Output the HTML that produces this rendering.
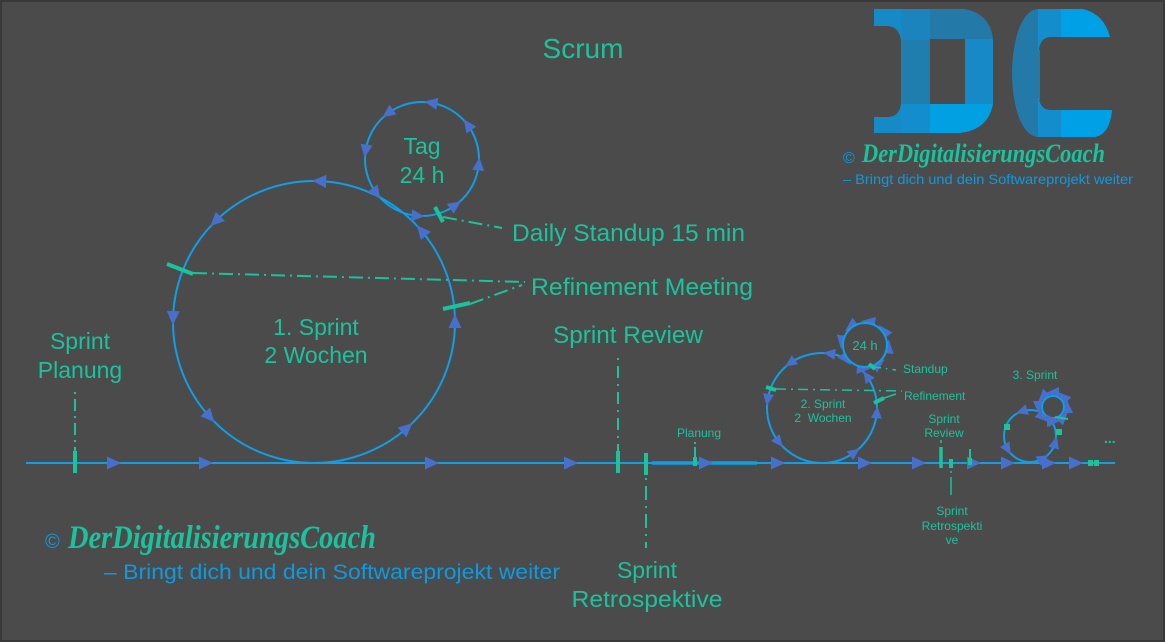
<!DOCTYPE html>
<html><head><meta charset="utf-8">
<style>
html,body{margin:0;padding:0;background:#4b4b4b;}
svg{display:block;}
text{font-family:"Liberation Sans",sans-serif;}
</style></head>
<body>
<svg width="1165" height="642" viewBox="0 0 1165 642" xmlns="http://www.w3.org/2000/svg">
<defs>
<polygon id="A" points="0,-8 -6.5,6 6.5,6" fill="#4670cc"/>
<polygon id="B" points="0,-7.5 -6,5.5 6,5.5" fill="#4670cc"/>
<polygon id="C" points="0,-6.5 -5.5,5.5 5.5,5.5" fill="#4670cc"/>
<polygon id="E" points="0,-8 -6.5,6 6.5,6" fill="#4670cc"/>
<polygon id="F" points="0,-7 -6,6 6,6" fill="#4670cc"/>
<polygon id="R" points="8,0 -6,-6.5 -6,6.5" fill="#4670cc"/>
</defs>
<rect x="0" y="0" width="1165" height="642" fill="#393939"/>
<rect x="2" y="2" width="1161" height="638" fill="#4b4b4b"/>

<!-- Logo DC -->
<g>
<path d="M874,9 H901 V40 Q899,27 888,26 H874 Z" fill="#168ac6"/>
<path d="M874,133 H901 V104 Q899,117 888,117 H874 Z" fill="#168ac6"/>
<rect x="901" y="9" width="29" height="31" fill="#1c84bd"/>
<rect x="901" y="40" width="29" height="64" fill="#1f7eae"/>
<rect x="901" y="104" width="29" height="29" fill="#138dcc"/>
<path d="M930,9 H965 Q990,14 993,39 H930 Z" fill="#2379a8"/>
<rect x="965" y="39" width="28" height="65" fill="#1789c6"/>
<path d="M930,104 H993 Q988,130 960,133 H930 Z" fill="#00a0e3"/>
<path d="M1038,9 C1020,10 1012,45 1012,73 C1012,102 1020,136 1038,137 Z" fill="#2379a8"/>
<path d="M1038,9 H1061 V37 H1050 Q1040,38 1039,50 L1038,50 Z" fill="#148dcc"/>
<rect x="1038" y="50" width="2" height="50" fill="#2379a8"/>
<path d="M1038,137 H1061 V110 H1050 Q1040,109 1039,98 L1038,98 Z" fill="#148dcc"/>
<path d="M1061,9 H1083 Q1104,14 1110,37 H1061 Z" fill="#00a0e6"/>
<path d="M1061,110 H1112 Q1110,134 1095,137 H1061 Z" fill="#00a0e6"/>
</g>
<text x="843" y="163" font-size="16" fill="#0e9ae0">©</text>
<text x="862" y="162" font-size="26" font-style="italic" font-weight="bold" fill="#1bc39d" textLength="243" lengthAdjust="spacingAndGlyphs" style="font-family:'Liberation Serif',serif">DerDigitalisierungsCoach</text>
<text x="843" y="184" font-size="14" fill="#0e9ae0" textLength="290" lengthAdjust="spacingAndGlyphs">– Bringt dich und dein Softwareprojekt weiter</text>

<!-- Title -->
<text x="583" y="58" font-size="28" fill="#1bc39d" text-anchor="middle">Scrum</text>

<!-- Timeline -->
<line x1="26" y1="463" x2="1115" y2="463" stroke="#109ee6" stroke-width="2"/>
<line x1="652" y1="463" x2="757" y2="463" stroke="#109ee6" stroke-width="3.5"/>

<!-- Main sprint circle -->
<circle cx="314" cy="322" r="141" fill="none" stroke="#109ee6" stroke-width="2"/>
<circle cx="422" cy="159" r="57" fill="none" stroke="#109ee6" stroke-width="2"/>

<g>
<use href="#A" transform="translate(314 322) rotate(-87.5) translate(141 0)"/>
<use href="#A" transform="translate(314 322) rotate(-134) translate(141 0)"/>
<use href="#A" transform="translate(314 322) rotate(-178) translate(141 0)"/>
<use href="#A" transform="translate(314 322) rotate(-222) translate(141 0)"/>
<use href="#A" transform="translate(314 322) rotate(-311) translate(141 0)"/>
<use href="#A" transform="translate(314 322) rotate(0) translate(141 0)"/>
<use href="#A" transform="translate(314 322) rotate(-40) translate(141 0)"/>
</g>
<g>
<use href="#B" transform="translate(422 159) rotate(-80) translate(57 0)"/>
<use href="#B" transform="translate(422 159) rotate(-126) translate(57 0)"/>
<use href="#B" transform="translate(422 159) rotate(-171) translate(57 0)"/>
<use href="#B" transform="translate(422 159) rotate(-216) translate(57 0)"/>
<use href="#B" transform="translate(422 159) rotate(-265) translate(57 0)"/>
<use href="#B" transform="translate(422 159) rotate(-305) translate(57 0)"/>
<use href="#B" transform="translate(422 159) rotate(-354) translate(57 0)"/>
<use href="#B" transform="translate(422 159) rotate(-36) translate(57 0)"/>
</g>

<text x="422" y="154" font-size="23" fill="#1bc39d" text-anchor="middle">Tag</text>
<text x="422" y="183" font-size="23" fill="#1bc39d" text-anchor="middle">24 h</text>
<text x="316" y="335" font-size="23" fill="#1bc39d" text-anchor="middle">1. Sprint</text>
<text x="316" y="363" font-size="23" fill="#1bc39d" text-anchor="middle">2 Wochen</text>

<!-- Standup marker -->
<line x1="435" y1="207" x2="443" y2="222" stroke="#1bc39d" stroke-width="4"/>
<line x1="443" y1="217" x2="502" y2="228" stroke="#1bc39d" stroke-width="2" stroke-dasharray="14 5 2 5"/>
<text x="512" y="241" font-size="24" fill="#1bc39d" textLength="233" lengthAdjust="spacingAndGlyphs">Daily Standup 15 min</text>

<!-- Refinement markers -->
<line x1="167" y1="264" x2="193" y2="274" stroke="#1bc39d" stroke-width="4"/>
<line x1="193" y1="273" x2="525" y2="282" stroke="#1bc39d" stroke-width="2" stroke-dasharray="14 5 2 5"/>
<line x1="443" y1="309" x2="470" y2="303" stroke="#1bc39d" stroke-width="4"/>
<line x1="470" y1="304" x2="522" y2="285" stroke="#1bc39d" stroke-width="2" stroke-dasharray="14 5 2 5"/>
<text x="531" y="295" font-size="24" fill="#1bc39d" textLength="222" lengthAdjust="spacingAndGlyphs">Refinement Meeting</text>

<!-- Sprint Planung -->
<text x="80" y="349" font-size="23" fill="#1bc39d" text-anchor="middle">Sprint</text>
<text x="80" y="378" font-size="23" fill="#1bc39d" text-anchor="middle">Planung</text>
<line x1="75" y1="392" x2="75" y2="451" stroke="#1bc39d" stroke-width="2" stroke-dasharray="2 5 12 5"/>
<line x1="75" y1="451" x2="75" y2="473" stroke="#1bc39d" stroke-width="4"/>

<!-- Sprint Review -->
<text x="553" y="343" font-size="24" fill="#1bc39d" textLength="150" lengthAdjust="spacingAndGlyphs">Sprint Review</text>
<line x1="618" y1="358" x2="618" y2="451" stroke="#1bc39d" stroke-width="2" stroke-dasharray="2 6 12 6"/>
<line x1="618" y1="451" x2="618" y2="473" stroke="#1bc39d" stroke-width="4"/>

<!-- Retrospektive -->
<line x1="646" y1="453" x2="646" y2="475" stroke="#1bc39d" stroke-width="4"/>
<line x1="646" y1="478" x2="646" y2="548" stroke="#1bc39d" stroke-width="2" stroke-dasharray="2 6 14 6"/>
<text x="647" y="578" font-size="23" fill="#1bc39d" text-anchor="middle">Sprint</text>
<text x="647" y="607" font-size="23" fill="#1bc39d" text-anchor="middle" textLength="151" lengthAdjust="spacingAndGlyphs">Retrospektive</text>

<!-- small Planung -->
<text x="699" y="437" font-size="12" fill="#1bc39d" text-anchor="middle">Planung</text>
<line x1="695" y1="442" x2="695" y2="444" stroke="#1bc39d" stroke-width="2"/>
<line x1="695" y1="447" x2="695" y2="460" stroke="#1bc39d" stroke-width="2"/>
<rect x="693" y="457" width="4" height="9" fill="#1bc39d"/>

<!-- Timeline arrows -->
<g>
<use href="#R" x="113" y="463"/>
<use href="#R" x="205" y="463"/>
<use href="#R" x="431" y="463"/>
<use href="#R" x="570" y="463"/>
<use href="#R" x="705" y="463"/>
<use href="#R" x="777" y="463"/>
<use href="#R" x="864" y="463"/>
<use href="#R" x="918" y="463"/>
<use href="#R" x="973" y="463"/>
<use href="#R" x="1007" y="463"/>
<use href="#R" x="1048" y="463"/>
<use href="#R" x="1075" y="463"/>
</g>

<!-- Sprint 2 -->
<circle cx="822" cy="408" r="55" fill="none" stroke="#109ee6" stroke-width="2"/>
<g>
<use href="#C" transform="translate(822 408) rotate(-82) translate(55 0)"/>
<use href="#C" transform="translate(822 408) rotate(-125) translate(55 0)"/>
<use href="#C" transform="translate(822 408) rotate(-171) translate(55 0)"/>
<use href="#C" transform="translate(822 408) rotate(-218) translate(55 0)"/>
<use href="#C" transform="translate(822 408) rotate(-306) translate(55 0)"/>
<use href="#C" transform="translate(822 408) rotate(-355) translate(55 0)"/>
<use href="#C" transform="translate(822 408) rotate(-35) translate(55 0)"/>
</g>
<g>
<use href="#E" transform="translate(865 345) rotate(-80) translate(23 0)"/>
<use href="#E" transform="translate(865 345) rotate(-126) translate(23 0)"/>
<use href="#E" transform="translate(865 345) rotate(-171) translate(23 0)"/>
<use href="#E" transform="translate(865 345) rotate(-216) translate(23 0)"/>
<use href="#E" transform="translate(865 345) rotate(-265) translate(23 0)"/>
<use href="#E" transform="translate(865 345) rotate(-305) translate(23 0)"/>
<use href="#E" transform="translate(865 345) rotate(-354) translate(23 0)"/>
<use href="#E" transform="translate(865 345) rotate(-36) translate(23 0)"/>
</g>
<circle cx="865" cy="345" r="22" fill="#4b4b4b" stroke="#109ee6" stroke-width="2"/>
<text x="865" y="350" font-size="13" fill="#1bc39d" text-anchor="middle">24 h</text>
<text x="823" y="408" font-size="12" fill="#1bc39d" text-anchor="middle">2. Sprint</text>
<text x="823" y="422" font-size="12" fill="#1bc39d" text-anchor="middle" xml:space="preserve">2  Wochen</text>

<line x1="869" y1="364" x2="875" y2="369" stroke="#1bc39d" stroke-width="4"/>
<line x1="875" y1="367" x2="896" y2="370" stroke="#1bc39d" stroke-width="1.5" stroke-dasharray="6 5 1.5 5"/>
<text x="903" y="373" font-size="12" fill="#1bc39d">Standup</text>

<line x1="766" y1="387" x2="776" y2="390" stroke="#1bc39d" stroke-width="4"/>
<line x1="776" y1="389" x2="902" y2="391" stroke="#1bc39d" stroke-width="1.5" stroke-dasharray="10 5 2 5"/>
<line x1="874" y1="403" x2="884" y2="398" stroke="#1bc39d" stroke-width="4"/>
<line x1="884" y1="398" x2="896" y2="394" stroke="#1bc39d" stroke-width="1.5"/>
<text x="904" y="400" font-size="12" fill="#1bc39d">Refinement</text>

<!-- small Review/Retro -->
<text x="944" y="423" font-size="12" fill="#1bc39d" text-anchor="middle">Sprint</text>
<text x="944" y="437" font-size="12" fill="#1bc39d" text-anchor="middle">Review</text>
<line x1="941" y1="440" x2="941" y2="443" stroke="#1bc39d" stroke-width="1.5"/>
<line x1="941" y1="447" x2="941" y2="468" stroke="#1bc39d" stroke-width="3.5"/>
<rect x="949" y="459" width="4" height="9" fill="#1bc39d"/>
<line x1="951" y1="471" x2="951" y2="473" stroke="#1bc39d" stroke-width="1.5"/>
<line x1="951" y1="477" x2="951" y2="495" stroke="#1bc39d" stroke-width="1.5"/>
<text x="952" y="515" font-size="12" fill="#1bc39d" text-anchor="middle">Sprint</text>
<text x="952" y="530" font-size="12" fill="#1bc39d" text-anchor="middle">Retrospekti</text>
<text x="952" y="544" font-size="12" fill="#1bc39d" text-anchor="middle">ve</text>
<line x1="970" y1="449" x2="970" y2="460" stroke="#1bc39d" stroke-width="2"/>
<rect x="968" y="458" width="4" height="7" fill="#1bc39d"/>

<!-- Sprint 3 -->
<text x="1035" y="379" font-size="12" fill="#1bc39d" text-anchor="middle">3. Sprint</text>
<circle cx="1030" cy="436" r="26" fill="none" stroke="#109ee6" stroke-width="2"/>
<g>
<use href="#F" transform="translate(1053 407) rotate(0) translate(14 0)"/>
<use href="#F" transform="translate(1053 407) rotate(-45) translate(14 0)"/>
<use href="#F" transform="translate(1053 407) rotate(-90) translate(14 0)"/>
<use href="#F" transform="translate(1053 407) rotate(-135) translate(14 0)"/>
<use href="#F" transform="translate(1053 407) rotate(-180) translate(14 0)"/>
<use href="#F" transform="translate(1053 407) rotate(-225) translate(14 0)"/>
<use href="#F" transform="translate(1053 407) rotate(-270) translate(14 0)"/>
<use href="#F" transform="translate(1053 407) rotate(-315) translate(14 0)"/>
</g>
<circle cx="1053" cy="407" r="11" fill="#4b4b4b" stroke="#109ee6" stroke-width="2"/>
<g>
<use href="#C" transform="translate(1030 436) rotate(-108) translate(26 0)"/>
<use href="#C" transform="translate(1030 436) rotate(-210) translate(26 0)"/>
<use href="#C" transform="translate(1030 436) rotate(-300) translate(26 0)"/>
<use href="#C" transform="translate(1030 436) rotate(-345) translate(26 0)"/>
<use href="#C" transform="translate(1030 436) rotate(-40) translate(26 0)"/>
</g>
<rect x="1004" y="424" width="6" height="6" fill="#1bc39d"/>
<rect x="1056" y="429" width="6" height="6" fill="#1bc39d"/>
<line x1="1055" y1="417" x2="1068" y2="419" stroke="#1bc39d" stroke-width="2"/>
<rect x="1088" y="460" width="5" height="6" fill="#1bc39d"/>
<rect x="1094" y="460" width="5" height="6" fill="#1bc39d"/>
<text x="1104" y="443" font-size="14" fill="#1bc39d" font-weight="bold">...</text>

<!-- bottom left watermark -->
<text x="45" y="548" font-size="20" fill="#0e9ae0">©</text>
<text x="68" y="548" font-size="33" font-style="italic" font-weight="bold" fill="#1bc39d" textLength="308" lengthAdjust="spacingAndGlyphs" style="font-family:'Liberation Serif',serif">DerDigitalisierungsCoach</text>
<text x="104" y="579" font-size="21" fill="#0e9ae0" textLength="456" lengthAdjust="spacingAndGlyphs">– Bringt dich und dein Softwareprojekt weiter</text>
</svg>
</body></html>
